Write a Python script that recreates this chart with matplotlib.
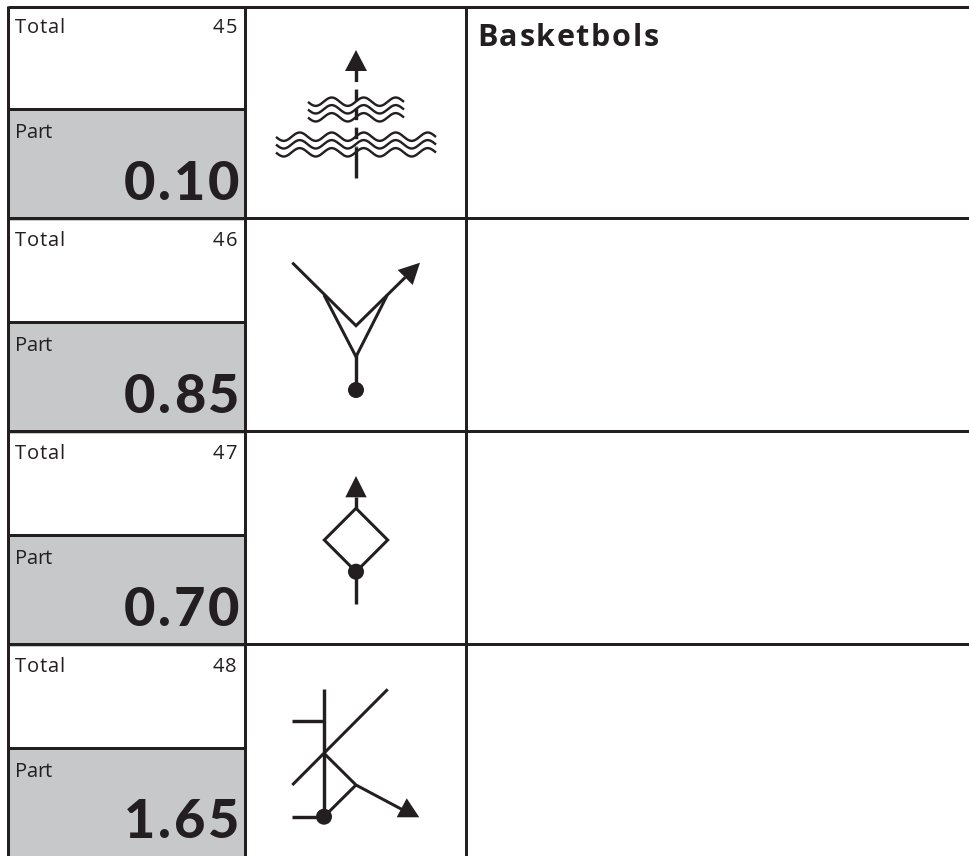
import numpy as np
import matplotlib
matplotlib.use('Agg')
import matplotlib.pyplot as plt
from matplotlib.patches import Polygon, Circle, Rectangle

# table content
totals = [45, 46, 47, 48]
parts = ['0.10', '0.85', '0.70', '1.65']
total_label = 'Total'
part_label = 'Part'
title = 'Basketbols'

INK = '#231f20'
GREY = '#c6c8ca'
GRID = 3 * 0.72
LW = 3.4 * 0.72
THIN = 3 * 0.72

fig = plt.figure(figsize=(9.69, 8.56), dpi=100)
ax = fig.add_axes([0, 0, 1, 1])
ax.set_xlim(0, 969)
ax.set_ylim(856, 0)
ax.axis('off')
renderer = fig.canvas.get_renderer()


def line(xs, ys, lw=THIN, **kw):
    ax.plot(xs, ys, color=INK, lw=lw, solid_capstyle='butt', solid_joinstyle='miter', zorder=3, **kw)


def tri(pts):
    ax.add_patch(Polygon(pts, closed=True, fc=INK, ec='none', zorder=4))


def dot(x, y):
    ax.add_patch(Circle((x, y), 8, fc=INK, ec='none', zorder=4))


def spaced(x, y, s, track, ha='left', **kw):
    # matplotlib has no letter spacing, so place the glyphs one at a time
    probe = ax.text(0, 0, s, **kw)
    ends = []
    for i in range(len(s)):
        probe.set_text(s[:i + 1])
        ends.append(probe.get_window_extent(renderer).width)
    probe.remove()
    if ha == 'right':
        x = x - ends[-1] - track * (len(s) - 1)
    for i, ch in enumerate(s):
        off = ends[i - 1] if i else 0
        ax.text(x + off + track * i, y, ch, va='baseline', ha='left', zorder=5, color=INK, **kw)


def waves(x0, x1, rows):
    x = np.linspace(x0, x1, 300)
    for yc in rows:
        line(x, yc - 4.2 * np.cos(2 * np.pi * (x - 331.7) / 32.0), lw=2.4 * 0.72)


def symbol_waves():
    tri([(356, 50), (345, 71), (367, 71)])
    ax.plot([356, 356], [70, 147], color=INK, lw=LW, dashes=(3.4, 2.2), zorder=3)
    line([356, 356], [147, 178], lw=LW)
    waves(308, 404, [101.7, 109.3, 117.3])
    waves(276, 436, [136.7, 144.3, 152.3])


def symbol_fork():
    line([292.3, 356, 405.3], [262.7, 325.7, 277.3])
    tri([(420, 262.7), (397.7, 270), (412.7, 285)])
    line([324, 356, 387.3], [295, 356.7, 295])
    line([356, 356], [354, 390], lw=LW)
    dot(356, 390)


def symbol_diamond():
    tri([(356, 476), (345.3, 497.3), (366.7, 497.3)])
    line([356, 356], [497, 509], lw=LW)
    ax.add_patch(Polygon([(356, 508.3), (387.7, 540), (356, 571.7), (324.3, 540)], closed=True,
                         fc='none', ec=INK, lw=THIN, zorder=3))
    dot(356, 571.7)
    line([356, 356], [572, 604], lw=LW)


def symbol_branch():
    line([324, 324], [689.3, 816.7], lw=LW)
    line([292.3, 324], [721.3, 721.3], lw=LW)
    line([292.3, 387.7], [785, 689.3])
    line([324, 356, 403], [753.3, 785, 810])
    line([356, 324], [785, 816.7])
    tri([(406.7, 798.3), (396.7, 817.3), (419.3, 817.3)])
    line([292.3, 324], [816.7, 816.7], lw=LW)
    dot(324, 816.7)


symbols = [symbol_waves, symbol_fork, symbol_diamond, symbol_branch]

for i in range(4):
    top = 5 + 213 * i
    ax.add_patch(Rectangle((8, top + 104), 237, 112, fc=GREY, ec='none', zorder=1))
    line([8, 245], [top + 104, top + 104], lw=GRID)
    line([8, 969], [max(top, 7), max(top, 7)], lw=GRID)
    spaced(15, top + 28, total_label, 0.6, family='Open Sans', fontsize=14.5)
    spaced(237, top + 28, str(totals[i]), 1.5, ha='right', family='Open Sans', fontsize=14.5)
    spaced(15, top + 133, part_label, -0.5, family='Open Sans', fontsize=14.5)
    spaced(239.5, top + 194.5, parts[i], 2.8, ha='right', family='Lato', weight='black', fontsize=39)
    symbols[i]()

for x in [8, 245, 466]:
    line([x, x], [6, 856], lw=GRID)

spaced(477, 46, title, 1.7, family='Open Sans', weight='bold', fontsize=22)

fig.savefig('out.png', dpi=100)
